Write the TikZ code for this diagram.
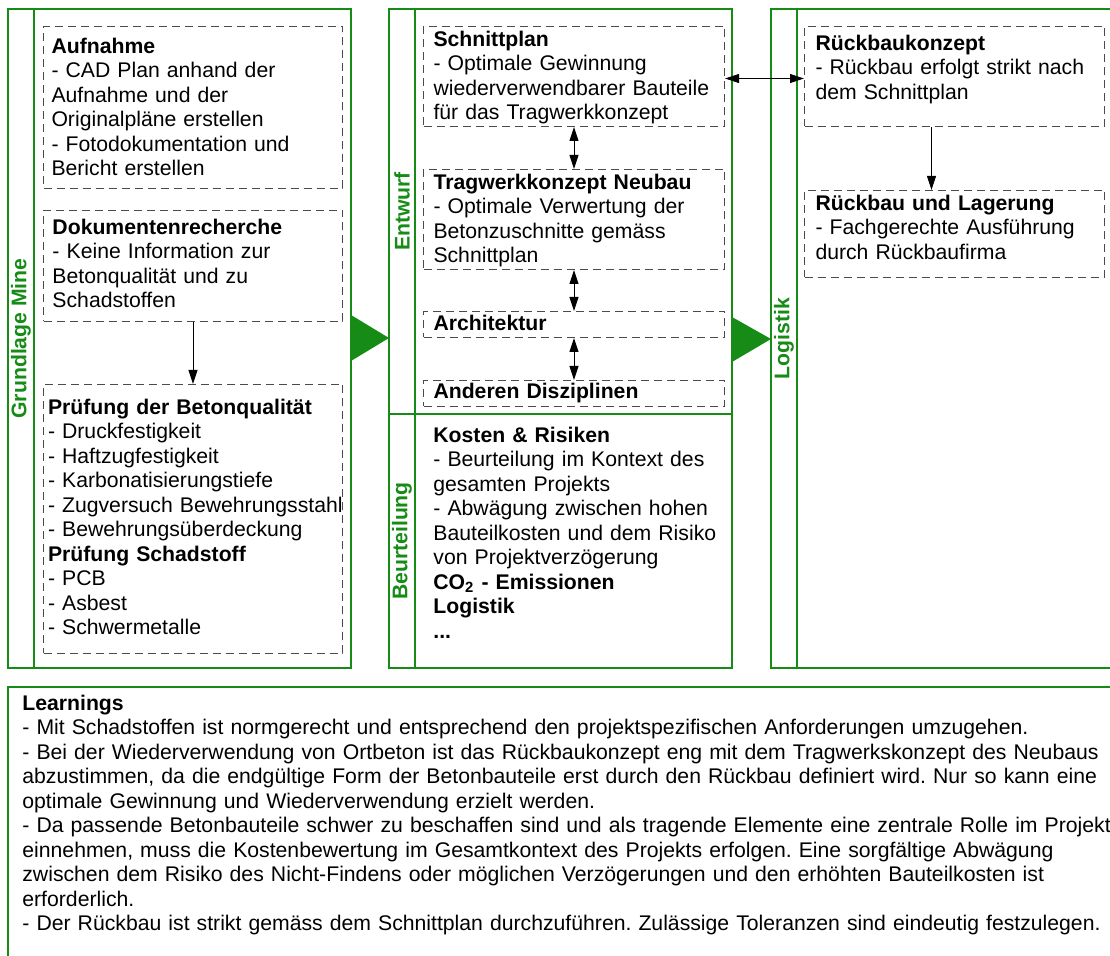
\documentclass[tikz,border=0pt]{standalone}
\usepackage{fontspec}
\setmainfont{Liberation Sans}
\usepackage{xcolor}
\usetikzlibrary{arrows.meta}
\usetikzlibrary{positioning}

\definecolor{frame}{RGB}{22,140,22}
\definecolor{dashline}{RGB}{75,75,75}
\newcommand{\diafont}{\fontsize{10.6pt}{12.25pt}\selectfont\frenchspacing}
\newcommand{\topgap}[1]{\rule{0pt}{#1}}
\newcommand{\botgap}[1]{\rule[-#1]{0pt}{#1}}

\tikzset{
	col/.style={draw=frame,line width=1.2pt},
	dbox/.style={draw=dashline,line width=0.5pt,dash pattern=on 4pt off 2.5pt,anchor=north west,inner ysep=0pt,inner xsep=#1,align=left},
	strip/.style={rotate=90,text=frame,font=\diafont\bfseries},
	link/.style={line width=0.5pt,>={Triangle[length=7pt,width=4.5pt]}}
}

\begin{document}
\begin{tikzpicture}[x=0.5pt,y=-0.5pt,font=\diafont]
			\useasboundingbox (0,0) rectangle (1110,956);
			\clip (0,0) rectangle (1110,956);
			
			\draw[col] (8,9) rectangle (351,668);
			\draw[col] (34,9) -- (34,668);
			\draw[col] (389,9) rectangle (732,668);
			\draw[col] (415,9) -- (415,668);
			\draw[col] (389,414) -- (732,414);
			\draw[col] (771,9) rectangle (1130,668);
			\draw[col] (797,9) -- (797,668);
			\draw[col] (8,687) rectangle (1130,980);
			
			\fill[frame] (351,315) -- (351,361) -- (389,338) -- cycle;
			\fill[frame] (732,317) -- (732,362) -- (771,339) -- cycle;
			
			\node (grundlage) [strip] at (21,338.5) {Grundlage Mine};
			\node (entwurf) [strip] at (402,211.5) {Entwurf};
			\node (beurteilung) [strip] at (402,541) {Beurteilung};
			\node (logistik) [strip] at (784,338.5) {Logistik};
			
			\node (aufnahme) [dbox=4pt,text width=141.5pt] at (43,26) {\topgap{13.5pt}\textbf{Aufnahme}\\- CAD Plan anhand der\\Aufnahme und der\\Originalpläne erstellen\\- Fotodokumentation und\\Bericht erstellen\botgap{6.25pt}};
			\node (doku) [dbox=4.5pt,text width=140.5pt,below=10.5pt of aufnahme.south west,anchor=north west] {\topgap{12pt}\textbf{Dokumentenrecherche}\\- Keine Information zur\\Betonqualität und zu\\Schadstoffen\botgap{6.75pt}};
			\node (pruefung) [dbox=2.25pt,text width=145pt,below=31pt of doku.south west,anchor=north west] {\topgap{15pt}\textbf{Prüfung der Betonqualität}\\- Druckfestigkeit\\- Haftzugfestigkeit\\- Karbonatisierungstiefe\\\mbox{- Zugversuch Bewehrungsstahl}\\- Bewehrungsüberdeckung\\\textbf{Prüfung Schadstoff}\\- PCB\\- Asbest\\- Schwermetalle\botgap{9.25pt}};
			
			\node (schnitt) [dbox=5pt,text width=140.5pt] at (423,26) {\topgap{10pt}\textbf{Schnittplan}\\- Optimale Gewinnung\\\mbox{wiederverwendbarer Bauteile}\\für das Tragwerkkonzept\botgap{3.25pt}};
			\node (tragwerk) [dbox=5pt,text width=140.5pt,below=21pt of schnitt.south west,anchor=north west] {\topgap{10pt}\textbf{Tragwerkkonzept Neubau}\\- Optimale Verwertung der\\Betonzuschnitte gemäss\\Schnittplan\botgap{3.25pt}};
			\node (archi) [dbox=5pt,text width=140.5pt,below=20.5pt of tragwerk.south west,anchor=north west] {\topgap{9.5pt}\textbf{Architektur}\botgap{3.5pt}};
			\node (andere) [dbox=5pt,text width=140.5pt,below=21pt of archi.south west,anchor=north west] {\topgap{9pt}\textbf{Anderen Disziplinen}\botgap{4pt}};
			
			\node (kosten) [anchor=north west,inner sep=0pt,text width=150pt,align=left] at (433,422) {\topgap{10pt}\textbf{Kosten \& Risiken}\\- Beurteilung im Kontext des\\gesamten Projekts\\- Abwägung zwischen hohen\\Bauteilkosten und dem Risiko\\von Projektverzögerung\\\textbf{CO\textsubscript{2} - Emissionen}\\\textbf{Logistik}\\\textbf{...}};
			
			\node (rkonzept) [dbox=5.5pt,text width=139pt] at (804,26) {\topgap{12pt}\textbf{Rückbaukonzept}\\- Rückbau erfolgt strikt nach\\dem Schnittplan\botgap{13.5pt}};
			\node (rlager) [dbox=5.5pt,text width=139pt,below=31.5pt of rkonzept.south west,anchor=north west] {\topgap{10pt}\textbf{Rückbau und Lagerung}\\- Fachgerechte Ausführung\\durch Rückbaufirma\botgap{9pt}};
			
			\node (learnings) [anchor=north west,inner sep=0pt,text width=600pt,align=left] at (22,690) {\topgap{10pt}\textbf{Learnings}\\- Mit Schadstoffen ist normgerecht und entsprechend den projektspezifischen Anforderungen umzugehen.\\- Bei der Wiederverwendung von Ortbeton ist das Rückbaukonzept eng mit dem Tragwerkskonzept des Neubaus\\abzustimmen, da die endgültige Form der Betonbauteile erst durch den Rückbau definiert wird. Nur so kann eine\\optimale Gewinnung und Wiederverwendung erzielt werden.\\- Da passende Betonbauteile schwer zu beschaffen sind und als tragende Elemente eine zentrale Rolle im Projekt\\einnehmen, muss die Kostenbewertung im Gesamtkontext des Projekts erfolgen. Eine sorgfältige Abwägung\\zwischen dem Risiko des Nicht-Findens oder möglichen Verzögerungen und den erhöhten Bauteilkosten ist\\erforderlich.\\- Der Rückbau ist strikt gemäss dem Schnittplan durchzuführen. Zulässige Toleranzen sind eindeutig festzulegen.};
			
			\path[link,->] (doku) edge (pruefung);
			\path[link,<->]
				(schnitt) edge (tragwerk)
				(tragwerk) edge (archi)
				(archi) edge (andere)
				([yshift=-1pt]schnitt.east) edge ([yshift=-1pt]rkonzept.west);
			\draw[link,->] ([xshift=-11.5pt]rkonzept.south) -- ([xshift=-11.5pt]rlager.north);
		\end{tikzpicture}
\end{document}
